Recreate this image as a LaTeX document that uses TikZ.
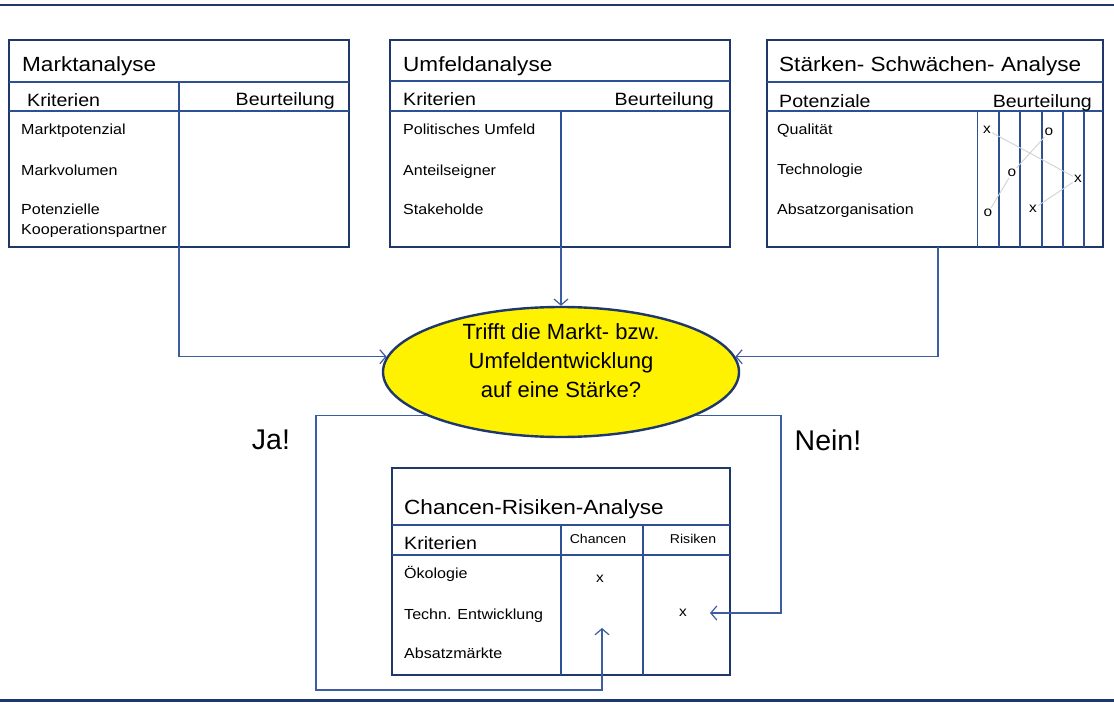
\documentclass[tikz,border=0pt]{standalone}
\usepackage{fontspec}
\setmainfont{Liberation Sans}
\newfontfamily\tabfont{Liberation Sans}[FakeStretch=1.1]
\usetikzlibrary{arrows.meta,positioning,calc,shapes.geometric}
\definecolor{navy}{RGB}{31,56,108}
\definecolor{rule}{RGB}{44,80,145}
\definecolor{conn}{RGB}{62,92,160}

\begin{document}
\begin{tikzpicture}[x=1pt,y=-1pt]
  \tikzset{frame/.style={draw=navy,line width=2.6pt,inner sep=0pt,outer sep=0pt,anchor=north west},
    sep/.style={draw=rule,line width=1.8pt},
    title/.style={anchor=base west,inner sep=0pt,font=\tabfont\fontsize{20.5}{24}\selectfont},
    head/.style={anchor=base west,inner sep=0pt,font=\tabfont\fontsize{17.8}{21}\selectfont},
    item/.style={anchor=base west,inner sep=0pt,font=\tabfont\fontsize{14.6}{18}\selectfont},
    small/.style={inner sep=0pt,font=\tabfont\fontsize{12.8}{15}\selectfont},
    kreuz/.style={inner sep=1pt,font=\tabfont\fontsize{14}{16}\selectfont},
    conn/.style={draw=conn,line width=1.2pt,-{Straight Barb[length=6pt,width=14pt]}}}
  \useasboundingbox (0,0) rectangle (1114,703);
  \fill[white] (0,0) rectangle (1114,703);
  \draw[navy,line width=2.5pt] (0,5) -- (1114,5);
  \draw[navy,line width=3pt] (0,700) -- (1114,700);

  % Marktanalyse
  \node[frame,minimum width=340pt,minimum height=207pt] (ma) at (9,40) {};
  \draw[sep] (9,82) -- (349,82) (9,111) -- (349,111) (179,82) -- (179,247);
  \node[title] (mat) at (22,72) {Marktanalyse};
  \node[head] (mak) at (27,107) {Kriterien};
  \node[head,anchor=base east] (mab) at (335,106) {Beurteilung};
  \node[item] (ma1) at (21,135) {Marktpotenzial};
  \node[item] (ma2) at (21,176) {Markvolumen};
  \node[item] (ma3) at (21,215) {Potenzielle};
  \node[item] (ma4) at (21,235) {Kooperationspartner};

  % Umfeldanalyse
  \node[frame,minimum width=340pt,minimum height=207pt] (ua) at (390,40) {};
  \draw[sep] (390,81) -- (730,81) (390,111) -- (730,111) (561,111) -- (561,247);
  \node[title] (uat) at (403,72) {Umfeldanalyse};
  \node[head] (uak) at (403,106) {Kriterien};
  \node[head,anchor=base east] (uab) at (714,106) {Beurteilung};
  \node[item] (ua1) at (403,135) {Politisches Umfeld};
  \node[item] (ua2) at (403,176) {Anteilseigner};
  \node[item] (ua3) at (403,215) {Stakeholde};

  % Staerken-Schwaechen
  \node[frame,minimum width=336pt,minimum height=207pt] (sw) at (767,40) {};
  \draw[sep] (767,82) -- (1103,82) (767,111) -- (1103,111);
  \foreach \x/\w in {977/1,999/2.6,1020/1.8,1042/1.2,1063/2.6,1084/2.6}
    \draw[rule,line width=\w pt] (\x,111) -- (\x,247);
  \node[title] (swt) at (779,72) {Stärken- Schwächen- Analyse};
  \node[head] (swk) at (779,108) {Potenziale};
  \node[head,anchor=base east] (swb) at (1092,108) {Beurteilung};
  \node[item] (sw1) at (777,135) {Qualität};
  \node[item] (sw2) at (777,175) {Technologie};
  \node[item] (sw3) at (777,215) {Absatzorganisation};
  \node[kreuz] (s1x) at (987,130) {x};
  \node[kreuz] (s1o) at (1049,132) {o};
  \node[kreuz] (s2o) at (1012,173) {o};
  \node[kreuz] (s2x) at (1078,179) {x};
  \node[kreuz] (s3o) at (988,213) {o};
  \node[kreuz] (s3x) at (1033,209) {x};
  \draw[gray!35,line width=.9pt] (s1x) -- (s2x) -- (s3x);
  \draw[gray!35,line width=.9pt] (s1o) -- (s2o) -- (s3o);

  % Frage
  \node[ellipse,draw=navy,line width=2.4pt,fill=yellow,minimum width=356pt,minimum height=130pt] (q) at (561,372) {};
  \node[align=center,font=\fontsize{22}{29}\selectfont,yshift=11pt] (qt) at (q.center) {Trifft die Markt- bzw.\\Umfeldentwicklung\\auf eine Stärke?};
  \node[font=\fontsize{28.5}{32}\selectfont] (ja) at (271,440) {Ja!};
  \node[font=\fontsize{28.5}{32}\selectfont] (nein) at (828,440) {Nein!};

  % Chancen-Risiken
  \node[frame,minimum width=338pt,minimum height=207pt] (cr) at (392,468) {};
  \draw[sep] (392,525) -- (730,525) (392,555) -- (730,555) (561,525) -- (561,675) (643,525) -- (643,675);
  \node[title] (crt) at (404,514) {Chancen-Risiken-Analyse};
  \node[head] (crk) at (404,549) {Kriterien};
  \node[small] (crc) at (598,539) {Chancen};
  \node[small] (crr) at (693,539) {Risiken};
  \node[item] (cr1) at (404,578) {Ökologie};
  \node[item] (cr2) at (404,619) {Techn. Entwicklung};
  \node[item] (cr3) at (404,658) {Absatzmärkte};
  \node[kreuz] (ccx) at (600,579) {x};
  \node[kreuz] (crx) at (683,613) {x};

  \coordinate (madiv) at (179,247);
  \coordinate (uadiv) at (561,247);
  \coordinate (swdiv) at (938,247);
  \coordinate (jak) at (316,690);
  \coordinate (jat) at (602,628);
  \coordinate (neink) at (781,613);
  \coordinate (neint) at (710,613);
  \draw[conn] (madiv) |- (q.175);
  \draw[conn] (uadiv) -- (q.north);
  \draw[conn] (swdiv) |- (q.5);
  \draw[conn] (q.198) -| (jak) -| (jat);
  \draw[conn] (q.342) -| (neink) -- (neint);
\end{tikzpicture}
\end{document}
